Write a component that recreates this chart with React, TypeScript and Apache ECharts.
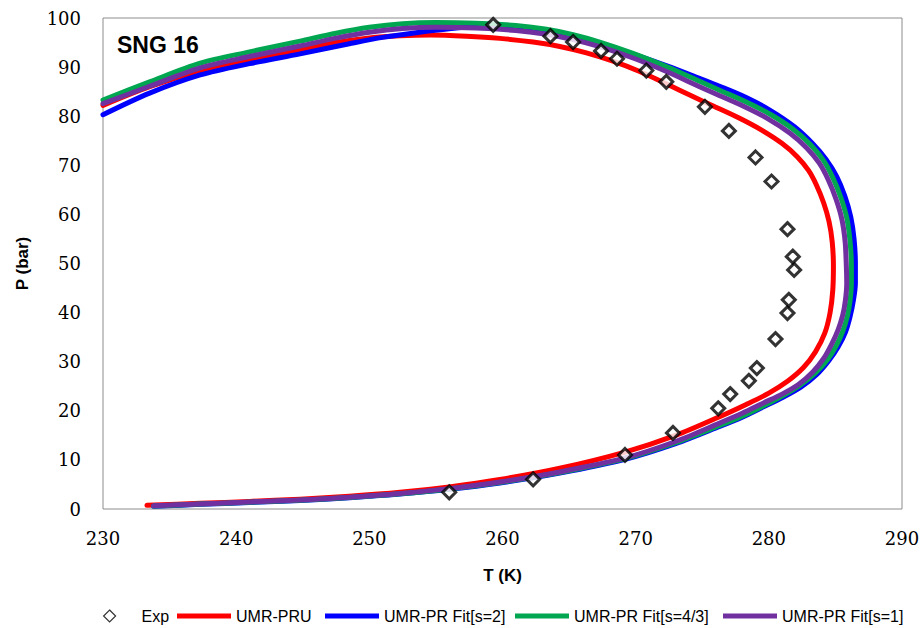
import React, { useEffect, useRef } from "react";
import * as echarts from "echarts";

// Experimental dew/bubble points (T in K, P in bar)
const expT = [256.0, 262.3, 269.2, 272.8, 276.2, 277.1, 278.5, 279.1, 280.5, 281.4, 281.5, 281.9, 281.8, 281.4, 280.2, 279.0, 277.0, 275.2, 272.3, 270.8, 268.6, 267.4, 265.3, 263.6, 259.3];
const expP = [3.4, 6.05, 11.0, 15.5, 20.5, 23.4, 26.1, 28.7, 34.6, 39.9, 42.6, 48.7, 51.4, 57.0, 66.7, 71.6, 77.0, 81.9, 87.0, 89.3, 91.7, 93.3, 95.1, 96.3, 98.6];

// Model phase envelopes, traced from the bubble branch round the cricondentherm to the dew branch
const umrPru: [number, number][] = [
  [233.3, 0.75], [237.3, 1.15], [241.0, 1.55], [244.8, 2.0], [248.5, 2.6], [252.3, 3.4], [256.0, 4.5],
  [259.8, 6.0], [264.3, 8.3], [269.2, 11.6], [273.0, 15.0], [276.3, 18.8], [278.3, 21.3], [280.0, 23.6],
  [281.4, 26.0], [282.6, 28.8], [283.5, 32.0], [284.2, 35.8], [284.6, 40.0], [284.8, 44.5], [284.85, 49.5],
  [284.76, 54.4], [284.52, 58.55], [284.12, 62.32], [283.58, 65.95], [282.98, 68.95], [282.13, 71.75],
  [280.98, 74.48], [279.43, 77.22], [277.73, 79.68], [275.79, 82.13], [274.3, 84.0], [272.3, 86.6],
  [270.3, 89.1], [268.3, 91.2], [266.3, 92.9], [264.3, 94.2], [262.3, 95.1], [259.8, 95.85], [257.3, 96.3],
  [254.6, 96.55], [252.3, 96.4], [250.0, 95.95], [247.5, 95.0], [244.8, 93.5], [241.0, 91.4], [237.3, 89.2],
  [233.5, 86.0], [230.0, 82.2],
];

const fitS2: [number, number][] = [
  [233.8, 0.55], [237.3, 0.95], [241.0, 1.32], [244.8, 1.75], [248.5, 2.3], [252.3, 3.05], [256.0, 4.0],
  [259.8, 5.3], [264.3, 7.3], [269.2, 10.1], [273.0, 13.3], [276.3, 16.8], [278.0, 18.7], [279.6, 20.8],
  [281.1, 22.8], [282.4, 24.8], [283.6, 27.4], [284.5, 30.2], [285.2, 33.0], [285.75, 36.0], [286.1, 39.2],
  [286.35, 42.5], [286.5, 46.0], [286.5, 50.0], [286.4, 55.0], [286.15, 59.5], [285.7, 63.8], [285.1, 67.7],
  [284.3, 71.2], [283.3, 74.4], [281.9, 77.9], [280.1, 81.2], [278.3, 83.8], [276.3, 86.1], [274.8, 87.7],
  [272.4, 90.2], [269.8, 92.65], [267.3, 94.75], [265.3, 96.15], [263.3, 97.2], [261.0, 97.95], [258.5, 98.3],
  [256.0, 97.8], [253.5, 97.0], [251.0, 96.05], [248.5, 94.75], [244.8, 92.7], [241.0, 90.7], [237.3, 88.4],
  [233.5, 84.7], [230.0, 80.3],
];

const fitS43: [number, number][] = [
  [233.8, 0.6], [237.3, 1.0], [241.0, 1.37], [244.8, 1.8], [248.5, 2.35], [252.3, 3.1], [256.0, 4.08],
  [259.8, 5.4], [264.3, 7.42], [269.2, 10.25], [273.0, 13.5], [276.3, 17.0], [278.0, 18.9], [279.6, 21.0],
  [281.0, 23.0], [282.3, 25.1], [283.5, 27.7], [284.4, 30.4], [285.05, 33.2], [285.55, 36.2], [285.9, 39.3],
  [286.1, 42.5], [286.2, 46.0], [286.2, 49.5], [286.1, 54.5], [285.85, 59.3], [285.4, 63.5], [284.8, 67.5],
  [284.1, 71.0], [283.1, 74.3], [281.8, 77.4], [280.1, 80.4], [278.3, 82.9], [276.3, 85.3], [274.8, 87.1],
  [272.4, 90.0], [269.8, 92.8], [267.3, 95.1], [265.3, 96.6], [263.3, 97.7], [261.0, 98.45], [258.0, 98.95],
  [255.0, 99.1], [252.5, 98.85], [250.0, 98.1], [247.5, 96.9], [244.8, 95.3], [241.0, 93.1], [237.3, 90.8],
  [233.5, 87.0], [230.0, 83.3],
];

const fitS1: [number, number][] = [
  [233.8, 0.65], [237.3, 1.03], [241.0, 1.42], [244.8, 1.85], [248.5, 2.4], [252.3, 3.15], [256.0, 4.15],
  [259.8, 5.5], [264.3, 7.55], [269.2, 10.4], [273.0, 13.75], [276.3, 17.5], [278.0, 19.5], [279.6, 21.6],
  [281.0, 23.4], [282.2, 25.3], [283.3, 27.9], [284.1, 30.6], [284.7, 33.5], [285.2, 36.5], [285.55, 39.5],
  [285.75, 42.5], [285.85, 46.0], [285.82, 49.5], [285.73, 54.45], [285.48, 59.09], [285.04, 63.17],
  [284.46, 67.07], [283.79, 70.43], [282.83, 73.59], [281.57, 76.59], [279.91, 79.52], [278.14, 81.98],
  [276.15, 84.37], [274.8, 86.0], [272.4, 89.0], [269.8, 91.85], [267.3, 94.15], [265.3, 95.6], [263.3, 96.7],
  [261.0, 97.45], [258.0, 97.95], [255.0, 98.1], [252.5, 97.85], [250.0, 97.1], [247.5, 95.9], [244.8, 94.3],
  [241.0, 92.15], [237.3, 89.85], [233.5, 86.1], [230.0, 82.55],
];

const seriesNames = ["Exp", "UMR-PRU", "UMR-PR Fit[s=2]", "UMR-PR Fit[s=4/3]", "UMR-PR Fit[s=1]"];
const lineColors = ["#ff0000", "#0000ff", "#00a650", "#7030a0"];
const lineData = [umrPru, fitS2, fitS43, fitS1];

const xTicks = { min: 230, max: 290, interval: 10 };
const yTicks = { min: 0, max: 100, interval: 10 };

// left edge of each legend entry along the bottom row
const legendLefts = [103, 177, 325, 515, 723];

const lineIcon = "path://M0,0 L54,0 L54,5 L0,5 Z";
const diamondIcon = "path://M6,0 L12,6 L6,12 L0,6 Z";

export default function App() {
  const ref = useRef<HTMLDivElement>(null);

  useEffect(() => {
    if (!ref.current) return;
    const chart = echarts.init(ref.current, null, { renderer: "svg" });

    const tickFont = { fontFamily: "DejaVu Serif", fontSize: 18, color: "#000" };
    const titleFont = { fontFamily: "Liberation Sans", fontWeight: "bold" as const, fontSize: 17, color: "#000" };

    const lineSeries = lineData.map((d, i) => ({
      name: seriesNames[i + 1],
      type: "line" as const,
      data: d,
      smooth: 0.3,
      showSymbol: false,
      symbol: "none",
      color: lineColors[i],
      lineStyle: { color: lineColors[i], width: 5, cap: "round" as const, join: "round" as const },
      z: 2 + i,
    }));

    const legendItem = (i: number) =>
      i === 0
        ? { name: seriesNames[0], icon: diamondIcon, itemStyle: { color: "#fff", borderColor: "#000", borderWidth: 1.2 } }
        : { name: seriesNames[i], icon: lineIcon, itemStyle: { color: lineColors[i - 1], borderWidth: 0 } };

    const legends = seriesNames.map((_, i) => ({
      left: legendLefts[i],
      top: 608,
      padding: 0,
      itemWidth: 54,
      itemHeight: 12,
      itemGap: 0,
      selectedMode: false,
      symbolKeepAspect: true,
      textStyle: { fontFamily: "Liberation Sans", fontSize: 16, color: "#000" },
      data: [legendItem(i)],
    }));

    chart.setOption({
      animation: false,
      backgroundColor: "#fff",
      grid: {
        left: 103,
        right: 21,
        top: 18,
        bottom: 119,
        show: true,
        borderColor: "#8c8c8c",
        borderWidth: 1,
        containLabel: false,
      },
      xAxis: {
        type: "value",
        ...xTicks,
        name: "T (K)",
        nameLocation: "middle",
        nameGap: 58,
        nameTextStyle: titleFont,
        axisLine: { show: false },
        axisTick: { show: false },
        splitLine: { show: false },
        axisLabel: { ...tickFont, margin: 20 },
      },
      yAxis: {
        type: "value",
        ...yTicks,
        name: "P (bar)",
        nameLocation: "middle",
        nameGap: 72,
        nameTextStyle: titleFont,
        axisLine: { show: false },
        axisTick: { show: false },
        splitLine: { show: false },
        axisLabel: { ...tickFont, margin: 22 },
      },
      legend: legends,
      graphic: [
        {
          type: "text",
          left: 117,
          top: 33,
          style: {
            text: "SNG 16",
            fontFamily: "Liberation Sans",
            fontWeight: "bold",
            fontSize: 23,
            fill: "#000",
          },
        },
      ],
      series: [
        ...lineSeries,
        {
          name: seriesNames[0],
          type: "scatter",
          data: expT.map((t, i) => [t, expP[i]]),
          symbol: "diamond",
          symbolSize: 13,
          itemStyle: { color: "#fff", borderColor: "#000", borderWidth: 3 },
          z: 10,
        },
      ],
    });

    return () => chart.dispose();
  }, []);

  return <div ref={ref} style={{ width: 923, height: 628, position: "absolute", left: 0, top: 0 }} />;
}
